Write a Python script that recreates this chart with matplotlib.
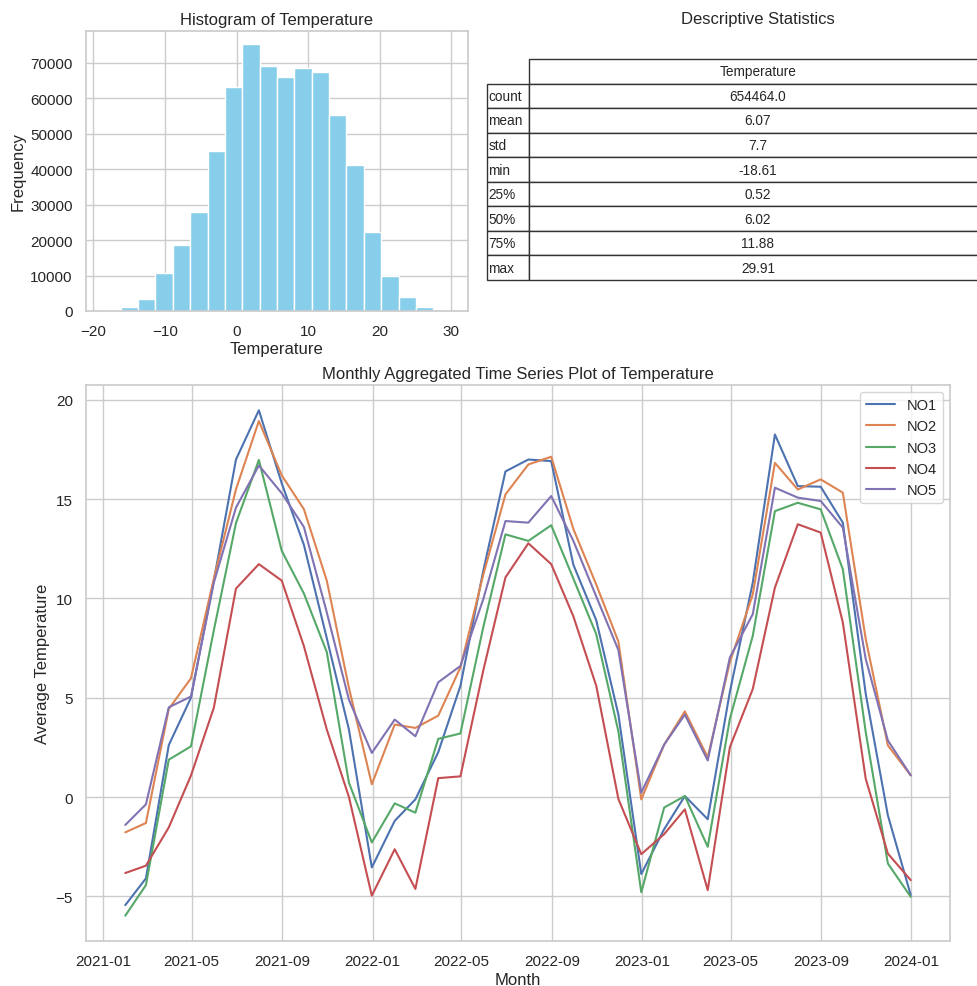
import numpy as np
import pandas as pd
import matplotlib
matplotlib.use("Agg")
import matplotlib.pyplot as plt
import matplotlib.dates as mdates
from matplotlib.table import Table
import seaborn as sns

sns.set_theme(style="whitegrid", font_scale=1.0)
plt.rcParams["font.family"] = ["Liberation Sans", "DejaVu Sans"]

# ---- descriptive statistics of the temperature column ----
stat_names = ["count", "mean", "std", "min", "25%", "50%", "75%", "max"]
stat_values = [654464.0, 6.07, 7.7, -18.61, 0.52, 6.02, 11.88, 29.91]

# ---- histogram counts (20 equal bins between min and max) ----
hist_counts = [150, 1200, 3500, 10600, 18600, 27800, 45000, 63200, 75200, 69100,
               66100, 68400, 67400, 55400, 41200, 22400, 9800, 4000, 1200, 100]

# ---- monthly mean temperature per price area ----
areas = ["NO1", "NO2", "NO3", "NO4", "NO5"]
no1 = [-5.45, -4.10, 2.62, 5.00, 10.9, 17.00, 19.48, 15.80, 12.70, 8.00, 3.40, -3.55,
       -1.20, -0.12, 2.26, 5.60, 11.40, 16.40, 17.00, 16.92, 11.70, 8.90, 4.15, -3.88,
       -1.62, 0.05, -1.12, 5.30, 10.80, 18.26, 15.66, 15.63, 13.82, 5.20, -0.92, -4.94]
no2 = [-1.78, -1.31, 4.44, 5.98, 11.0, 15.50, 18.94, 16.20, 14.50, 10.90, 5.50, 0.64,
       3.65, 3.48, 4.10, 6.53, 11.20, 15.24, 16.75, 17.14, 13.50, 10.70, 7.83, -0.12,
       2.64, 4.31, 2.00, 6.80, 10.20, 16.83, 15.49, 16.00, 15.33, 7.96, 2.60, 1.09]
no3 = [-5.98, -4.44, 1.88, 2.55, 8.4, 13.80, 16.98, 12.40, 10.25, 7.30, 0.72, -2.29,
       -0.32, -0.79, 2.93, 3.20, 8.56, 13.23, 12.90, 13.69, 11.00, 8.20, 3.30, -4.80,
       -0.53, 0.05, -2.51, 3.94, 8.12, 14.40, 14.82, 14.49, 11.47, 3.27, -3.35, -5.03]
no4 = [-3.83, -3.46, -1.53, 1.08, 4.5, 10.50, 11.73, 10.90, 7.60, 3.40, 0.00, -4.97,
       -2.63, -4.63, 0.95, 1.04, 6.38, 11.06, 12.78, 11.73, 9.10, 5.60, -0.10, -2.88,
       -1.87, -0.62, -4.69, 2.51, 5.44, 10.55, 13.74, 13.32, 8.79, 0.92, -2.85, -4.19]
no5 = [-1.41, -0.37, 4.52, 5.06, 10.8, 14.58, 16.70, 15.30, 13.60, 9.30, 4.90, 2.22,
       3.90, 3.06, 5.78, 6.60, 9.97, 13.90, 13.82, 15.16, 12.90, 10.10, 7.40, 0.22,
       2.64, 4.15, 1.84, 7.03, 9.21, 15.58, 15.08, 14.91, 13.57, 6.95, 2.85, 1.09]
series = [no1, no2, no3, no4, no5]
months = pd.date_range("2021-01-01", periods=len(no1), freq="MS") + pd.offsets.MonthEnd(0)

fig = plt.figure(figsize=(9.78, 9.87), dpi=100)

# ---- histogram ----
ax_h = fig.add_axes([0.0879, 0.6839, 0.3906, 0.2837])
t_min, t_max = stat_values[3], stat_values[7]
edges = np.linspace(t_min, t_max, len(hist_counts) + 1)
ax_h.bar(edges[:-1], hist_counts, width=np.diff(edges), align="edge",
         color="skyblue", edgecolor="white", linewidth=1.0)
ax_h.set_title("Histogram of Temperature", pad=5)
ax_h.set_xlabel("Temperature", labelpad=2)
ax_h.set_ylabel("Frequency", labelpad=3)

# ---- statistics table ----
ax_t = fig.add_axes([0.498, 0.7153, 0.511, 0.2239])
ax_t.axis("off")
label_w, value_w = 0.084, 0.916
# the bbox holds the value column; the row-label column sits to its left
tbl = Table(ax_t, bbox=[label_w, 0, value_w, 1])
n_rows = len(stat_names) + 1
row_h = 1.0 / n_rows
tbl.add_cell(0, 0, width=value_w, height=row_h, text="Temperature", loc="center")
for i, (name, val) in enumerate(zip(stat_names, stat_values), start=1):
    tbl.add_cell(i, -1, width=label_w, height=row_h, text=name, loc="left")
    tbl.add_cell(i, 0, width=value_w, height=row_h, text=f"{val}", loc="center")
tbl.auto_set_font_size(False)
tbl.set_fontsize(9.8)
for cell in tbl.get_celld().values():
    cell.set_edgecolor("#333333")
    cell.set_linewidth(1.0)
    cell.PAD = 0.03
ax_t.add_table(tbl)
fig.text(0.775, 0.9805, "Descriptive Statistics", ha="center", va="center",
         fontsize=plt.rcParams["axes.titlesize"])

# ---- monthly time series ----
ax_l = fig.add_axes([0.0879, 0.0456, 0.8835, 0.5633])
for name, vals in zip(areas, series):
    ax_l.plot(months, vals, label=name, linewidth=1.5)
ax_l.xaxis.set_major_locator(mdates.MonthLocator(bymonth=[1, 5, 9]))
ax_l.xaxis.set_major_formatter(mdates.DateFormatter("%Y-%m"))
ax_l.set_title("Monthly Aggregated Time Series Plot of Temperature", pad=5)
ax_l.set_xlabel("Month", labelpad=3)
ax_l.set_ylabel("Average Temperature")
ax_l.legend(loc="upper right", fontsize=10.5)

fig.savefig("out.png", dpi=100)
